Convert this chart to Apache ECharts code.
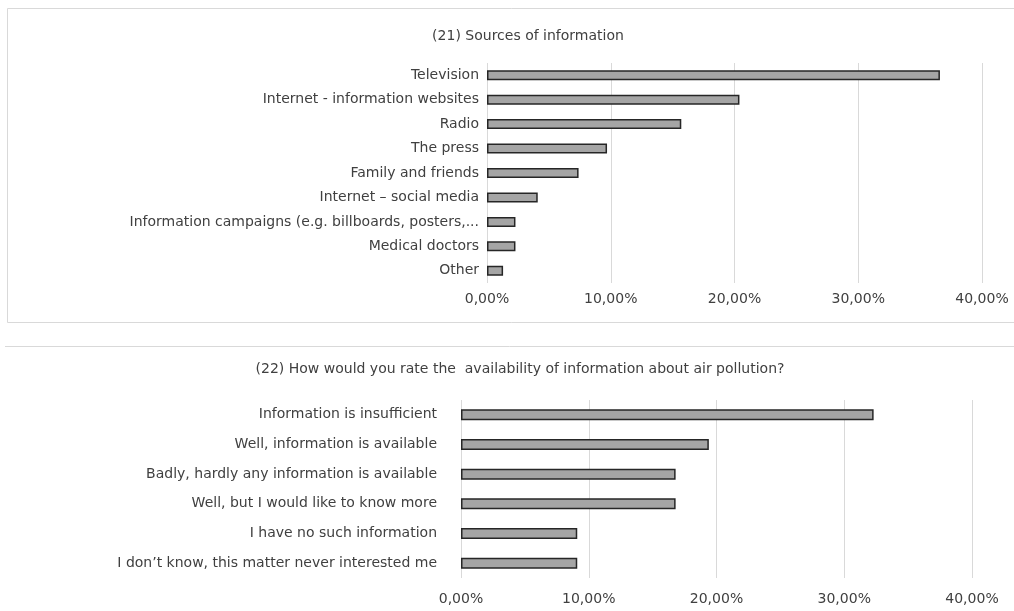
<!DOCTYPE html>
<html>
<head>
<meta charset="utf-8">
<script src="https://cdn.jsdelivr.net/npm/echarts@6/dist/echarts.min.js"></script>
<style>
  html, body { margin: 0; padding: 0; background: #fff; }
  #chart { width: 1014px; height: 611px; }
</style>
</head>
<body>
<div id="chart"></div>
<script>
// (21) Sources of information
const sourceCategories = [
  'Television',
  'Internet - information websites',
  'Radio',
  'The press',
  'Family and friends',
  'Internet \u2013 social media',
  'Information campaigns (e.g. billboards, posters,...',
  'Medical doctors',
  'Other'
]
const sourceValues = [36.6, 20.4, 15.7, 9.7, 7.4, 4.1, 2.3, 2.3, 1.3]

// (22) Availability of information
const availCategories = [
  'Information is insufficient',
  'Well, information is available',
  'Badly, hardly any information is available',
  'Well, but I would like to know more',
  'I have no such information',
  'I don\u2019t know, this matter never interested me'
]
const availValues = [32.3, 19.4, 16.8, 16.8, 9.1, 9.1]

const tickMin = 0
const tickMax = 40
const tickStep = 10

const font = 'DejaVu Sans'
const textColor = '#404040'
const gridColor = '#d9d9d9'

const fmt = v => v.toFixed(2).replace('.', ',') + '%'

const valueAxis = (gridIndex, margin) => ({
  type: 'value',
  gridIndex,
  min: tickMin,
  max: tickMax,
  interval: tickStep,
  axisLine: { show: false },
  axisTick: { show: false },
  splitLine: { lineStyle: { color: gridColor, width: 1 } },
  axisLabel: {
    color: textColor, fontFamily: font, fontSize: 14, margin,
    formatter: fmt
  }
})

const catAxis = (gridIndex, data, margin) => ({
  type: 'category',
  gridIndex,
  data,
  inverse: true,
  axisLine: { show: false },
  axisTick: { show: false },
  axisLabel: { color: textColor, fontFamily: font, fontSize: 14, margin }
})

const barStyle = { color: '#a5a5a5', borderColor: '#262626', borderWidth: 1.5 }

const chart = echarts.init(document.getElementById('chart'))

chart.setOption({
  animation: false,
  backgroundColor: '#fff',
  title: [
    {
      text: '(21) Sources of information',
      left: 523, top: 24, textAlign: 'center',
      textStyle: { color: textColor, fontFamily: font, fontSize: 14, fontWeight: 'normal' }
    },
    {
      text: '(22) How would you rate the  availability of information about air pollution?',
      left: 515, top: 357, textAlign: 'center',
      textStyle: { color: textColor, fontFamily: font, fontSize: 14, fontWeight: 'normal' }
    }
  ],
  graphic: [
    {
      type: 'rect',
      shape: { x: 7.5, y: 8.5, width: 1020, height: 314 },
      style: { fill: 'none', stroke: gridColor, lineWidth: 1 }
    },
    {
      type: 'line',
      shape: { x1: 5, y1: 346.5, x2: 1014, y2: 346.5 },
      style: { stroke: gridColor, lineWidth: 1 }
    }
  ],
  grid: [
    { left: 487, right: 32, top: 63, height: 220 },
    { left: 461, right: 42, top: 400, height: 178 }
  ],
  xAxis: [valueAxis(0, 9), valueAxis(1, 14)],
  yAxis: [catAxis(0, sourceCategories, 8), catAxis(1, availCategories, 24)],
  series: [
    {
      type: 'bar', xAxisIndex: 0, yAxisIndex: 0,
      data: sourceValues, barWidth: 10, itemStyle: barStyle
    },
    {
      type: 'bar', xAxisIndex: 1, yAxisIndex: 1,
      data: availValues, barWidth: 11, itemStyle: barStyle
    }
  ]
})
</script>
</body>
</html>
